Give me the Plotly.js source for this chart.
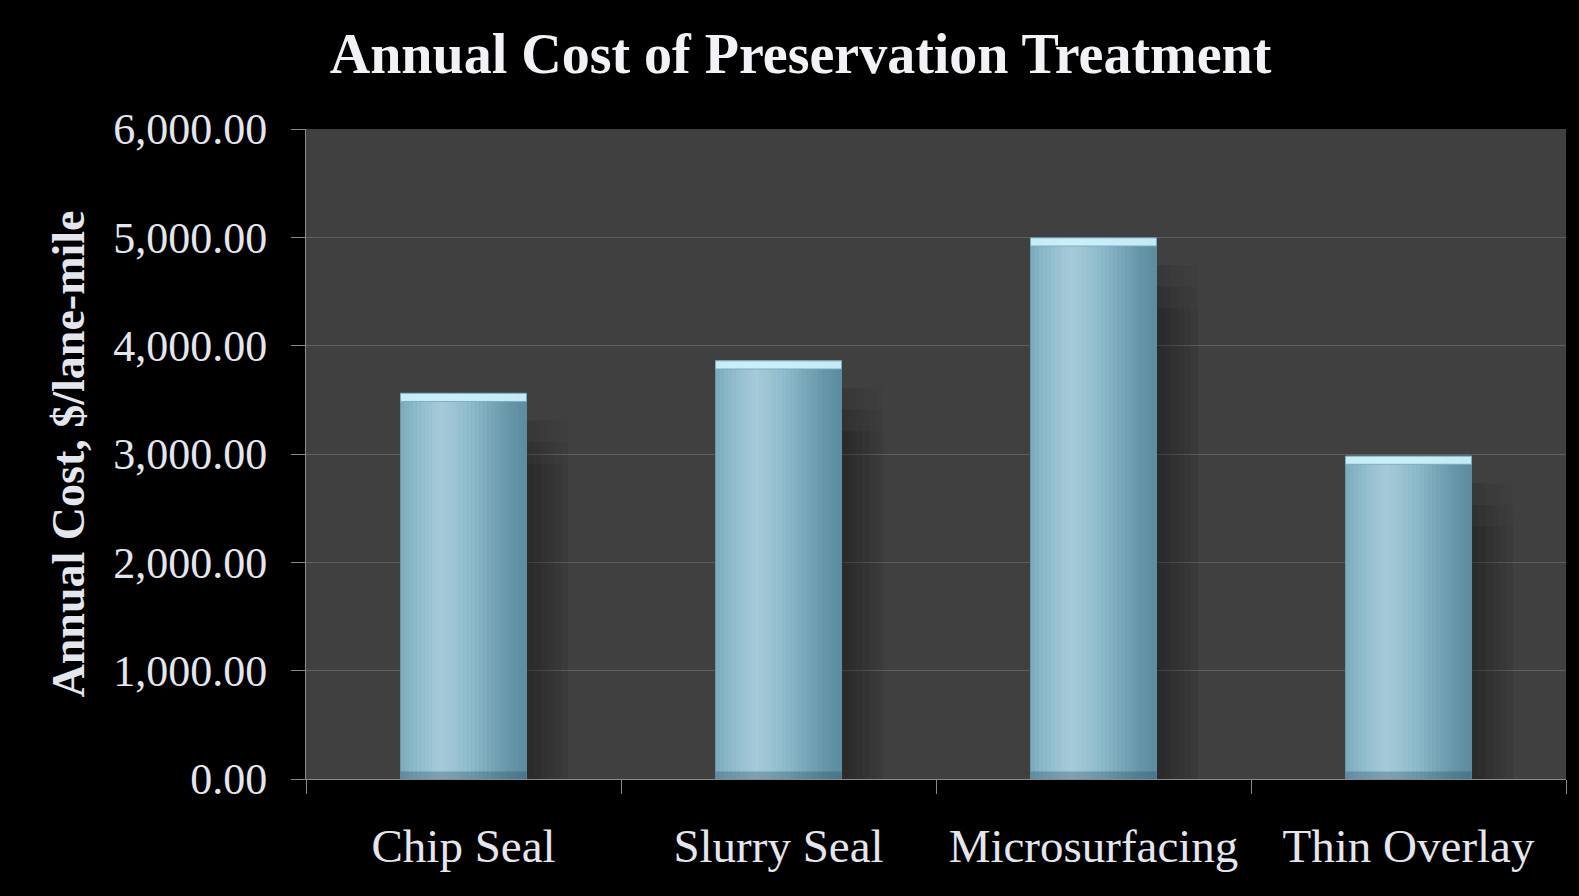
<!DOCTYPE html>
<html>
<head>
<meta charset="utf-8">
<script src="https://cdn.plot.ly/plotly-3.0.1.min.js"></script>
<style>
html,body{margin:0;padding:0;background:#000;}
#chart{width:1579px;height:896px;}
</style>
</head>
<body>
<div id="chart"></div>
<script>
// ---- data ----
const categories = ["Chip Seal", "Slurry Seal", "Microsurfacing", "Thin Overlay"];
const annualCost = [3560, 3860, 4995, 2980];
const yTickValues = [0, 1000, 2000, 3000, 4000, 5000, 6000];
const yTickLabels = ["0.00", "1,000.00", "2,000.00", "3,000.00", "4,000.00", "5,000.00", "6,000.00"];
const chartTitle = "Annual Cost of Preservation Treatment";
const yAxisTitle = "Annual Cost, $/lane-mile";

// ---- styling helpers ----
const BAR_W = 0.4;
const N_STRIPS = 32;
const stops = [
  [0.00, [122, 170, 189]],
  [0.10, [140, 185, 202]],
  [0.32, [166, 202, 216]],
  [0.55, [143, 188, 204]],
  [0.85, [104, 151, 170]],
  [1.00, [92, 140, 160]]
];
function colAt(t) {
  for (let i = 0; i < stops.length - 1; i++) {
    const [t0, c0] = stops[i], [t1, c1] = stops[i + 1];
    if (t >= t0 && t <= t1) {
      const f = (t - t0) / (t1 - t0);
      const c = c0.map((v, k) => Math.round(v + (c1[k] - v) * f));
      return `rgb(${c[0]},${c[1]},${c[2]})`;
    }
  }
  return 'rgb(92,140,160)';
}

const traces = [];
// soft shadow to the right of each bar (fades horizontally and at its top)
const shadowAlphas = [0.12, 0.10, 0.08, 0.06, 0.04, 0.02];
const shadowDrops = [250, 450, 650];
shadowDrops.forEach(drop => {
  shadowAlphas.forEach((a, i) => {
    traces.push({
      type: 'bar', x: categories, y: annualCost.map(v => Math.max(v - drop, 0)),
      width: 0.022, offset: BAR_W / 2 + i * 0.022,
      marker: {color: `rgba(0,0,0,${a})`, line: {width: 0}},
      hoverinfo: 'skip', showlegend: false
    });
  });
});
// base bar (outline)
traces.push({
  type: 'bar', x: categories, y: annualCost,
  width: BAR_W, offset: -BAR_W / 2,
  marker: {color: 'rgb(92,140,160)', line: {color: 'rgb(84,128,146)', width: 1}},
  hoverinfo: 'skip', showlegend: false
});
// horizontal gradient strips
const sw = BAR_W / N_STRIPS;
for (let i = 0; i < N_STRIPS; i++) {
  traces.push({
    type: 'bar', x: categories, y: annualCost,
    width: sw * 1.1, offset: -BAR_W / 2 + i * sw,
    marker: {color: colAt((i + 0.5) / N_STRIPS), line: {width: 0}},
    hoverinfo: 'skip', showlegend: false
  });
}
// top bevel highlight
traces.push({
  type: 'bar', x: categories, y: annualCost.map(() => 75), base: annualCost.map(v => v - 75),
  width: BAR_W, offset: -BAR_W / 2,
  marker: {color: 'rgba(205,242,252,0.92)', line: {color: 'rgba(120,170,190,0.9)', width: 1}},
  hoverinfo: 'skip', showlegend: false
});
// bottom bevel shade
traces.push({
  type: 'bar', x: categories, y: annualCost.map(() => 70),
  width: BAR_W, offset: -BAR_W / 2,
  marker: {color: 'rgba(30,70,90,0.3)', line: {width: 0}},
  hoverinfo: 'skip', showlegend: false
});

const txtColor = '#E4E6EE';
const layout = {
  width: 1579, height: 896,
  paper_bgcolor: '#000000', plot_bgcolor: '#404040',
  margin: {l: 306, r: 13, t: 129, b: 117},
  barmode: 'overlay',
  showlegend: false,
  title: {
    text: '<b>' + chartTitle + '</b>',
    font: {family: 'Liberation Serif, serif', size: 56, color: '#F2F2F6'},
    x: 0.507, xanchor: 'center', y: 0.94, yanchor: 'middle', xref: 'container', yref: 'container'
  },
  xaxis: {
    type: 'category',
    tickson: 'boundaries',
    ticks: 'outside', ticklen: 14, tickcolor: '#8a8a8a', tickwidth: 1,
    showline: true, linecolor: '#8a8a8a', linewidth: 1,
    showgrid: false,
    tickfont: {family: 'Liberation Serif, serif', size: 47, color: txtColor},
    ticklabelstandoff: 26,
    fixedrange: true
  },
  yaxis: {
    range: [0, 6000],
    tickvals: yTickValues, ticktext: yTickLabels,
    ticks: 'outside', ticklen: 14, tickcolor: '#8a8a8a', tickwidth: 1,
    showline: true, linecolor: '#8a8a8a', linewidth: 1,
    showgrid: true, gridcolor: '#5e5e5e', gridwidth: 1,
    zeroline: false,
    tickfont: {family: 'Liberation Serif, serif', size: 44, color: txtColor},
    ticklabelstandoff: 15,
    title: {
      text: '<b>' + yAxisTitle + '</b>',
      font: {family: 'Liberation Serif, serif', size: 46, color: txtColor},
      standoff: 14
    },
    fixedrange: true
  }
};

Plotly.newPlot('chart', traces, layout, {displayModeBar: false, staticPlot: true});
</script>
</body>
</html>
